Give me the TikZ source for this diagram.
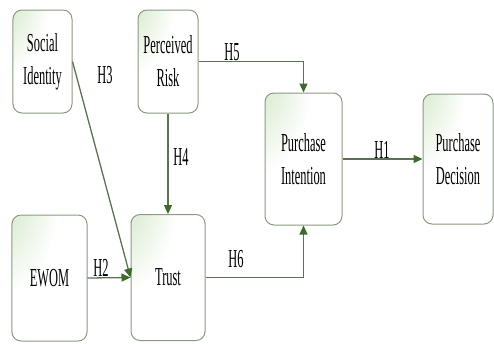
\documentclass[tikz,border=0pt]{standalone}
\usepackage{fontspec}
\setmainfont{Liberation Serif}
\newfontfamily\condfont[FakeStretch=0.48]{Liberation Serif}
\usetikzlibrary{arrows.meta}
\definecolor{boxline}{HTML}{8A9A82}
\definecolor{boxgreen}{HTML}{B9DAA8}
\definecolor{arrline}{HTML}{5B7352}
\definecolor{arrtip}{HTML}{3E6B2A}
\pgfdeclareradialshading{cornerglow}{\pgfpoint{-45bp}{45bp}}{color(0bp)=(boxgreen); color(35bp)=(white); color(100bp)=(white)}
\begin{document}
\begin{tikzpicture}[x=1bp,y=-1bp,
  box/.style={draw=boxline, line width=1bp, rounded corners=9bp, shading=cornerglow,
    inner sep=0pt, align=center, font=\condfont\fontsize{26}{33}\selectfont},
  conn/.style={draw=arrline, line width=1.3bp, -{Triangle[length=9bp,width=8bp,color=arrtip]}},
  lab/.style={font=\condfont\fontsize{26}{33}\selectfont, inner sep=0pt}]
\useasboundingbox (0,0) rectangle (494,343);
\node[box, minimum width=59bp, minimum height=103bp] (si) at (42.5,61.5) {Social\\Identity};
\node[box, minimum width=60bp, minimum height=103bp] (pr) at (168,61.5) {Perceived\\Risk};
\node[box, minimum width=75bp, minimum height=126bp] (ew) at (49.5,278) {EWOM};
\node[box, minimum width=74bp, minimum height=126bp] (tr) at (168,277.5) {Trust};
\node[box, minimum width=77bp, minimum height=132bp] (pi) at (303.5,159) {Purchase\\Intention};
\node[box, minimum width=70bp, minimum height=130bp] (pd) at (458,159) {Purchase\\Decision};
\draw[conn] (si.east) -- (tr.west);
\draw[conn] (pr.south) -- (tr.north);
\draw[conn] (ew.east) -- (tr.west);
\draw[conn] (pr.east) -| (pi.north);
\draw[conn] (tr.east) -| (pi.south);
\draw[conn] (pi.east) -- (pd.west);
\node[lab] (h3) at (105,75) {H3};
\node[lab] (h5) at (232,52) {H5};
\node[lab] (h4) at (181,157) {H4};
\node[lab] (h2) at (101,268) {H2};
\node[lab] (h6) at (236,259) {H6};
\node[lab] (h1) at (382,150) {H1};
\end{tikzpicture}
\end{document}
